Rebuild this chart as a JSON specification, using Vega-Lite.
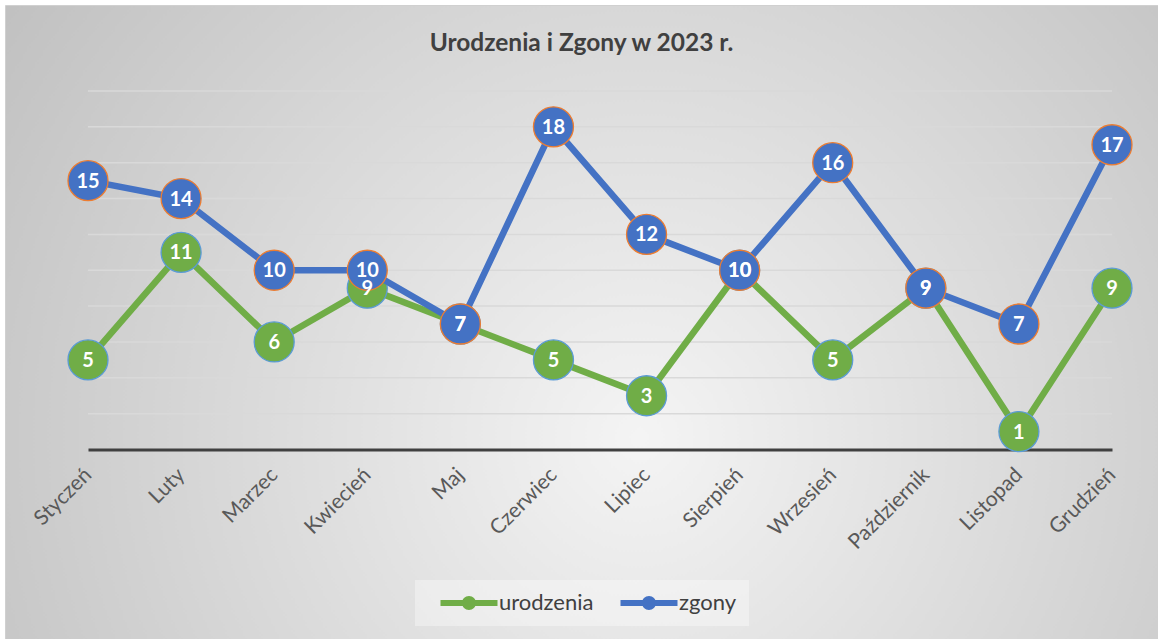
{
  "$schema": "https://vega.github.io/schema/vega-lite/v6.json",
  "autosize": "none",
  "width": 1153,
  "height": 634,
  "padding": {"left": 5, "top": 5, "right": 0, "bottom": 0},
  "background": "#ffffff",
  "config": {
    "view": {
      "stroke": "#d0d0d0",
      "strokeWidth": 1,
      "fill": {
        "gradient": "radial",
        "x1": 0.55, "y1": 0.6, "r1": 0,
        "x2": 0.55, "y2": 0.6, "r2": 0.75,
        "stops": [
          {"offset": 0, "color": "#f4f4f4"},
          {"offset": 1, "color": "#bababa"}
        ]
      }
    }
  },
  "title": {
    "text": "Urodzenia i Zgony w 2023 r.",
    "font": "Lato",
    "fontSize": 24.5,
    "fontWeight": "bold",
    "color": "#404040",
    "anchor": "middle",
    "offset": -51
  },
  "datasets": {
    "main": [
      {"miesiac": "Styczeń", "seria": "urodzenia", "wartosc": 5},
      {"miesiac": "Luty", "seria": "urodzenia", "wartosc": 11},
      {"miesiac": "Marzec", "seria": "urodzenia", "wartosc": 6},
      {"miesiac": "Kwiecień", "seria": "urodzenia", "wartosc": 9},
      {"miesiac": "Maj", "seria": "urodzenia", "wartosc": 7},
      {"miesiac": "Czerwiec", "seria": "urodzenia", "wartosc": 5},
      {"miesiac": "Lipiec", "seria": "urodzenia", "wartosc": 3},
      {"miesiac": "Sierpień", "seria": "urodzenia", "wartosc": 10},
      {"miesiac": "Wrzesień", "seria": "urodzenia", "wartosc": 5},
      {"miesiac": "Październik", "seria": "urodzenia", "wartosc": 9},
      {"miesiac": "Listopad", "seria": "urodzenia", "wartosc": 1},
      {"miesiac": "Grudzień", "seria": "urodzenia", "wartosc": 9},
      {"miesiac": "Styczeń", "seria": "zgony", "wartosc": 15},
      {"miesiac": "Luty", "seria": "zgony", "wartosc": 14},
      {"miesiac": "Marzec", "seria": "zgony", "wartosc": 10},
      {"miesiac": "Kwiecień", "seria": "zgony", "wartosc": 10},
      {"miesiac": "Maj", "seria": "zgony", "wartosc": 7},
      {"miesiac": "Czerwiec", "seria": "zgony", "wartosc": 18},
      {"miesiac": "Lipiec", "seria": "zgony", "wartosc": 12},
      {"miesiac": "Sierpień", "seria": "zgony", "wartosc": 10},
      {"miesiac": "Wrzesień", "seria": "zgony", "wartosc": 16},
      {"miesiac": "Październik", "seria": "zgony", "wartosc": 9},
      {"miesiac": "Listopad", "seria": "zgony", "wartosc": 7},
      {"miesiac": "Grudzień", "seria": "zgony", "wartosc": 17}
    ],
    "grid": [
      {"y": 2}, {"y": 4}, {"y": 6}, {"y": 8}, {"y": 10},
      {"y": 12}, {"y": 14}, {"y": 16}, {"y": 18}, {"y": 20}
    ]
  },
  "data": {"name": "main"},
  "encoding": {
    "x": {
      "field": "miesiac",
      "type": "ordinal",
      "sort": ["Styczeń","Luty","Marzec","Kwiecień","Maj","Czerwiec","Lipiec","Sierpień","Wrzesień","Październik","Listopad","Grudzień"],
      "scale": {"type": "point", "range": [83, 1107], "padding": 0},
      "axis": {
        "title": null,
        "orient": "bottom",
        "offset": -189.5,
        "domainColor": "#404040",
        "domainWidth": 3,
        "ticks": false,
        "labelAngle": -45,
        "labelAlign": "right",
        "labelBaseline": "middle",
        "labelPadding": 22,
        "labelFont": "Lato",
        "labelFontSize": 21,
        "labelColor": "#595959"
      }
    },
    "y": {
      "field": "wartosc",
      "type": "quantitative",
      "scale": {"domain": [0, 20], "range": [444.5, 86], "nice": false, "zero": false},
      "axis": null
    }
  },
  "layer": [
    {
      "data": {"name": "grid"},
      "mark": {"type": "rule", "stroke": "#d9d9d9", "strokeWidth": 1.5},
      "encoding": {
        "x": {"datum": "Styczeń", "type": "ordinal"},
        "x2": {"datum": "Grudzień"},
        "y": {"field": "y", "type": "quantitative"}
      }
    },
    {
      "transform": [{"filter": "datum.seria === 'urodzenia'"}],
      "mark": {"type": "line", "strokeWidth": 6.5},
      "encoding": {
        "color": {
          "field": "seria",
          "type": "nominal",
          "scale": {"domain": ["urodzenia", "zgony"], "range": ["#70AD47", "#4472C4"]},
          "legend": {
            "title": null,
            "orient": "none",
            "legendX": 410,
            "legendY": 575,
            "direction": "horizontal",
            "symbolType": "M-2.85,-0.3 L2.85,-0.3 L2.85,0.3 L-2.85,0.3 Z M0.7,0 A0.7,0.7 0 1,1 -0.7,0 A0.7,0.7 0 1,1 0.7,0 Z",
            "symbolSize": 400,
            "symbolOffset": 31,
            "symbolStrokeWidth": 0,
            "labelFont": "Lato",
            "labelFontSize": 22,
            "labelColor": "#404040",
            "labelOffset": 19,
            "columnPadding": 13,
            "padding": 12,
            "fillColor": "rgba(255,255,255,0.35)",
            "encode": {
              "symbols": {
                "update": {
                  "fill": {"scale": "color", "field": "value"},
                  "stroke": {"value": "transparent"},
                  "opacity": {"value": 1}
                }
              }
            }
          }
        }
      }
    },
    {
      "transform": [{"filter": "datum.seria === 'urodzenia'"}],
      "mark": {"type": "point", "filled": true, "size": 1600, "stroke": "#5B9BD5", "strokeWidth": 1.3, "opacity": 1},
      "encoding": {
        "color": {"field": "seria", "type": "nominal"}
      }
    },
    {
      "transform": [{"filter": "datum.seria === 'zgony'"}],
      "mark": {"type": "line", "strokeWidth": 6.5},
      "encoding": {
        "color": {"field": "seria", "type": "nominal"}
      }
    },
    {
      "transform": [{"filter": "datum.seria === 'zgony'"}],
      "mark": {"type": "point", "filled": true, "size": 1600, "stroke": "#ED7D31", "strokeWidth": 1.3, "opacity": 1},
      "encoding": {
        "color": {"field": "seria", "type": "nominal"}
      }
    },
    {
      "mark": {"type": "text", "font": "Lato", "fontSize": 20, "fontWeight": "bold", "color": "#ffffff", "align": "center", "baseline": "middle", "dy": 1},
      "encoding": {
        "text": {"field": "wartosc", "type": "quantitative"}
      }
    }
  ]
}
